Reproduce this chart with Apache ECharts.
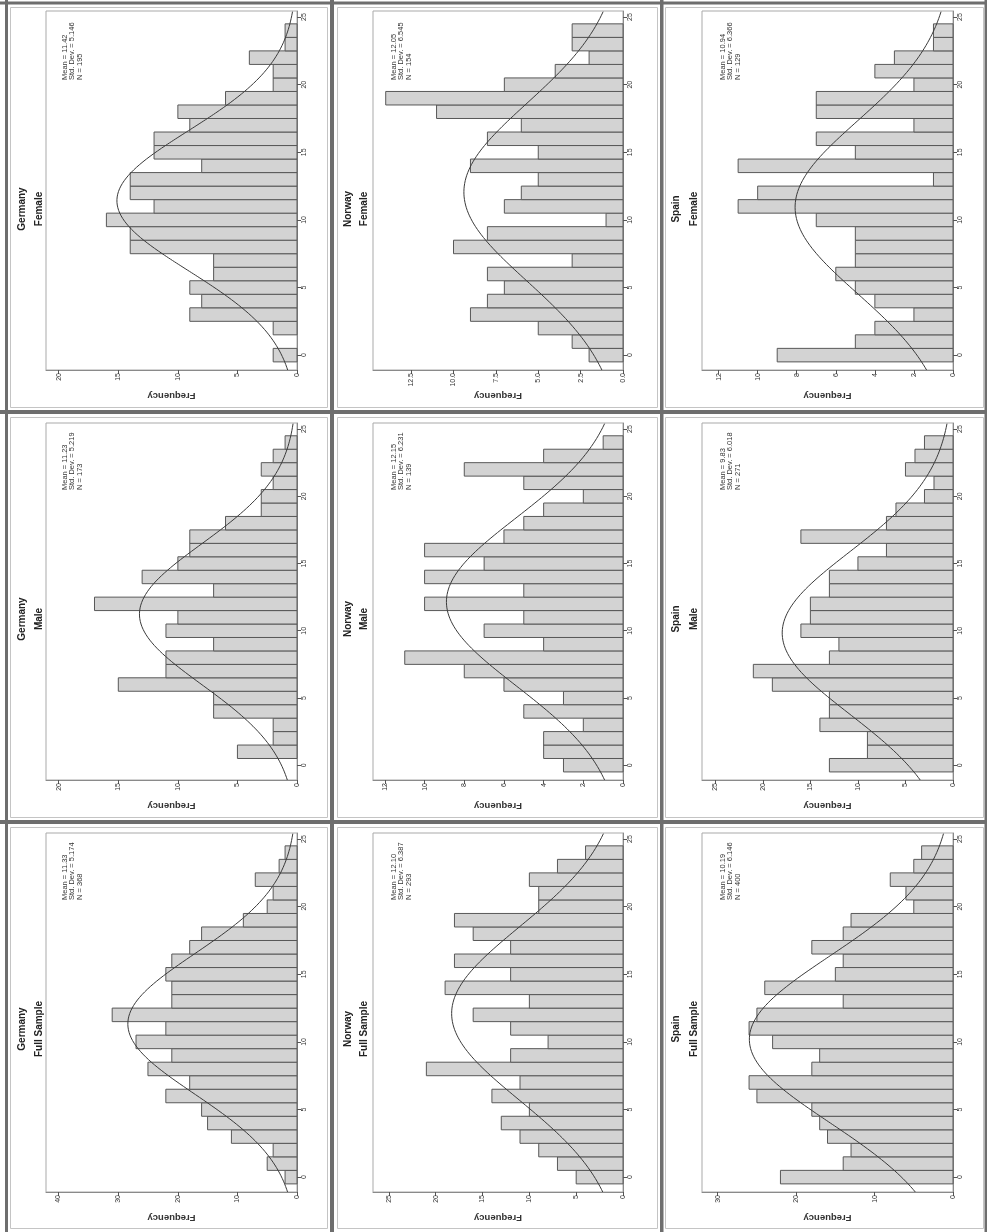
<!DOCTYPE html>
<html>
<head>
<meta charset="utf-8">
<script src="https://cdn.jsdelivr.net/npm/echarts@6/dist/echarts.min.js"></script>
<style>
html,body{margin:0;padding:0;background:#fff;}
#chart{width:987px;height:1232px;}
</style>
</head>
<body>
<div id="chart"></div>
<script>
// ---- data ----
const binValues = [0,1,2,3,4,5,6,7,8,9,10,11,12,13,14,15,16,17,18,19,20,21,22,23,24,25];
const binTickValues = [0,5,10,15,20,25];
const countries = ['Germany','Norway','Spain'];
const groups = ['Female','Male','Full Sample'];

const germanyFemale = [2,0,2,9,8,9,7,7,14,14,16,12,14,14,8,12,12,9,10,6,2,2,4,1,1,0];
const germanyMale   = [0,5,2,2,7,7,15,11,11,7,11,10,17,7,13,10,9,9,6,3,3,2,3,2,1,0];
const germanyFull   = [2,5,4,11,15,16,22,18,25,21,27,22,31,21,21,22,21,18,16,9,5,4,7,3,2,0];
const norwayFemale  = [2,3,5,9,8,7,8,3,10,8,1,7,6,5,9,5,8,6,11,14,7,4,2,3,3,0];
const norwayMale    = [3,4,4,2,5,3,6,8,11,4,7,5,10,5,10,7,10,6,5,4,2,5,8,4,1,0];
const norwayFull    = [5,7,9,11,13,10,14,11,21,12,8,12,16,10,19,12,18,12,16,18,9,9,10,7,4,0];
const spainFemale   = [9,5,4,2,4,5,6,5,5,5,7,11,10,1,11,5,7,2,7,7,2,4,3,1,1,0];
const spainMale     = [13,9,9,14,13,13,19,21,13,12,16,15,15,13,13,10,7,16,7,6,3,2,5,4,3,0];
const spainFull     = [22,14,13,16,17,18,25,26,18,17,23,26,25,14,24,15,14,18,14,13,5,6,8,5,4,0];

const freqTicksGermany      = [0,5,10,15,20];
const freqTicksGermanyFull  = [0,10,20,30,40];
const freqTicksNorwayFemale = [0,2.5,5,7.5,10,12.5];
const freqTicksNorwayMale   = [0,2,4,6,8,10,12];
const freqTicksNorwayFull   = [0,5,10,15,20,25];
const freqTicksSpainFemale  = [0,2,4,6,8,10,12];
const freqTicksSpainMale    = [0,5,10,15,20,25];
const freqTicksSpainFull    = [0,10,20,30];

// panel table: rows = group, cols = country
const panelData = [
  [germanyFemale, norwayFemale, spainFemale],
  [germanyMale,   norwayMale,   spainMale],
  [germanyFull,   norwayFull,   spainFull]
];
const panelTicks = [
  [freqTicksGermany,     freqTicksNorwayFemale, freqTicksSpainFemale],
  [freqTicksGermany,     freqTicksNorwayMale,   freqTicksSpainMale],
  [freqTicksGermanyFull, freqTicksNorwayFull,   freqTicksSpainFull]
];
const panelFreqMax = [
  [21.07, 14.75, 12.85],
  [21.07, 12.6, 26.4],
  [42.1, 26.7, 32.0]
];

// ---- layout ----
const colOrigin = [0, 330, 660];
const rowOrigin = [0, 410, 820];
const gridLeft = [46, 373, 702];
const gridRight = [297, 623, 953];
const gridTop = [11, 423, 833];
const gridBottom = [370, 780, 1192];
const binMin = -1.1, binMax = 25.45;
const FONT = 'Liberation Sans, Arial, sans-serif';

const grids = [], xAxes = [], yAxes = [], series = [], graphics = [];

function stats(counts){
  let n=0, s=0;
  counts.forEach((c,k)=>{ n+=c; s+=c*binValues[k]; });
  const m = s/n;
  let v=0;
  counts.forEach((c,k)=>{ v+=c*(binValues[k]-m)*(binValues[k]-m); });
  const sd = Math.sqrt(v/(n-1));
  return {n, m, sd};
}

let idx = 0;
for (let r=0;r<3;r++){
  for (let c=0;c<3;c++){
    const counts = panelData[r][c];
    const ticks = panelTicks[r][c];
    const decimals = ticks.some(t=>t%1!==0);
    grids.push({
      left: gridLeft[c], top: gridTop[r],
      width: gridRight[c]-gridLeft[c], height: gridBottom[r]-gridTop[r],
      show: true, borderColor: '#a9a9a9', borderWidth: 1, backgroundColor: '#fff'
    });
    xAxes.push({
      gridIndex: idx, type: 'value', inverse: true, position: 'bottom',
      min: 0, max: panelFreqMax[r][c],
      axisLine: {show: true, onZero: false, lineStyle: {color: '#8a8a8a', width: 1}},
      axisTick: {show: true, length: 4, customValues: ticks, lineStyle: {color: '#555'}},
      axisLabel: {show: true, customValues: ticks, rotate: 90, margin: 3,
        fontSize: 7, fontFamily: FONT, color: '#333',
        formatter: v => decimals ? v.toFixed(1) : String(v)},
      splitLine: {show: false},
      name: 'Frequency', nameLocation: 'middle', nameGap: 21, nameRotate: 180,
      nameTextStyle: {fontSize: 9.5, fontWeight: 'bold', fontFamily: FONT, color: '#333'}
    });
    yAxes.push({
      gridIndex: idx, type: 'value', position: 'right',
      min: binMin, max: binMax,
      axisLine: {show: true, onZero: false, lineStyle: {color: '#8a8a8a', width: 1}},
      axisTick: {show: true, length: 4, inside: false, customValues: binTickValues, lineStyle: {color: '#555'}},
      axisLabel: {show: true, customValues: binTickValues, rotate: 90, margin: 4,
        fontSize: 7, fontFamily: FONT, color: '#333'},
      splitLine: {show: false}
    });
    series.push({
      type: 'custom', xAxisIndex: idx, yAxisIndex: idx,
      encode: {x: 0, y: 1},
      data: counts.map((v,k)=>[v, binValues[k]]),
      renderItem: function(params, api){
        const f = api.value(0), k = api.value(1);
        if (!f) return {type:'group', children: []};
        const a = api.coord([0, k-0.5]);
        const b = api.coord([f, k+0.5]);
        return {
          type: 'rect',
          shape: {x: Math.min(a[0],b[0]), y: Math.min(a[1],b[1]),
                  width: Math.abs(a[0]-b[0]), height: Math.abs(a[1]-b[1])},
          style: {fill: '#d3d3d3', stroke: '#585858', lineWidth: 1}
        };
      },
      z: 2
    });
    const st = stats(counts);
    const curve = [];
    for (let y=binMin; y<=binMax+1e-9; y+=0.1){
      const z = (y-st.m)/st.sd;
      curve.push([st.n*Math.exp(-0.5*z*z)/(st.sd*Math.sqrt(2*Math.PI)), y]);
    }
    series.push({
      type: 'line', xAxisIndex: idx, yAxisIndex: idx,
      data: curve, showSymbol: false, symbol: 'none', smooth: false,
      lineStyle: {color: '#3a3a3a', width: 1}, z: 3, silent: true
    });
    const ox = colOrigin[c], oy = rowOrigin[r];
    // titles
    const tX1 = [22, 348, 676][c], tX2 = [39, 364, 694][c];
    graphics.push({type:'text', x: tX1, y: oy+209, rotation: Math.PI/2,
      style:{text: countries[c], fontSize: 10, fontWeight: 'bold', fontFamily: FONT, fill:'#222', align:'center', verticalAlign:'middle'}});
    graphics.push({type:'text', x: tX2, y: oy+209, rotation: Math.PI/2,
      style:{text: groups[r], fontSize: 10, fontWeight: 'bold', fontFamily: FONT, fill:'#222', align:'center', verticalAlign:'middle'}});
    // stats legend
    const sX = ox + [61, 60, 59][c];
    graphics.push({type:'text', x: sX, y: oy+80, rotation: Math.PI/2,
      style:{text: 'Mean = ' + st.m.toFixed(2) + '\nStd. Dev. = ' + st.sd.toFixed(3) + '\nN = ' + st.n,
        fontSize: 7.5, lineHeight: 7.5, fontFamily: FONT, fill:'#333', align:'left', verticalAlign:'top'}});
    idx++;
  }
}

// panel frames
const light = '#c4c4c4', dark = '#6e6e6e';
const innerX = [[10, 327], [337, 657], [665, 983]];
const innerY = [[7, 407], [417, 817], [827, 1228]];
for (let r=0;r<3;r++) for (let c=0;c<3;c++){
  graphics.push({type:'rect', shape:{x: innerX[c][0]+0.5, y: innerY[r][0]+0.5, width: innerX[c][1]-innerX[c][0], height: innerY[r][1]-innerY[r][0]},
    style:{fill:'none', stroke: light, lineWidth: 1}, silent: true});
}
[[0,1.5,987,3],[5,0,3,1232],[330,0,4,1232],[660,0,3.5,1232],[984.5,0,3,1232],[0,410,987,4],[0,820,987,4]].forEach(d=>{
  graphics.push({type:'rect', shape:{x:d[0], y:d[1], width:d[2], height:d[3]}, style:{fill: dark}, silent: true});
});

const chart = echarts.init(document.getElementById('chart'), null, {renderer: 'canvas'});
chart.setOption({
  animation: false,
  backgroundColor: '#fff',
  grid: grids, xAxis: xAxes, yAxis: yAxes, series: series,
  graphic: {elements: graphics}
});
</script>
</body>
</html>
